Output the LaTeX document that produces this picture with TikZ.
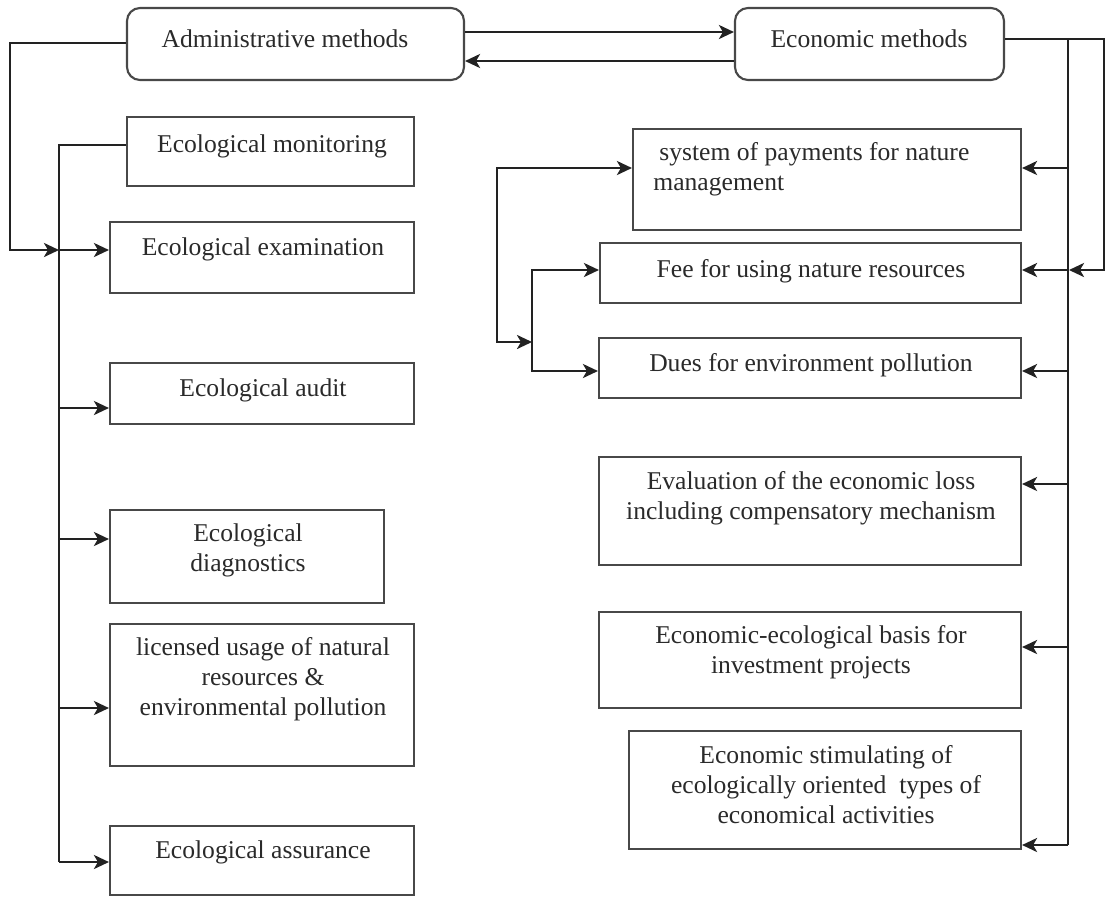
\documentclass[tikz,border=0pt]{standalone}
\usepackage{fontspec}
\setmainfont{Liberation Serif}
\usetikzlibrary{fit,arrows.meta}
\definecolor{boxc}{HTML}{484848}
\definecolor{txtc}{HTML}{2A2A2A}
\definecolor{linec}{HTML}{222222}
\begin{document}
\begin{tikzpicture}[x=0.5pt,y=-0.5pt,
  box/.style={draw=boxc, line width=1.05pt, inner sep=0pt, rectangle},
  rbox/.style={box, rounded corners=6.5pt},
  txt/.style={text=txtc, font=\fontsize{12.8}{15}\selectfont, align=center, inner sep=0pt},
  trunk/.style={draw=linec, line width=1.1pt},
  feed/.style={draw=linec, line width=1.3pt, -{Stealth[length=7.5pt,width=7pt,inset=2pt]}},
  twoway/.style={draw=linec, line width=1.3pt,
    {Stealth[length=7.5pt,width=7pt,inset=2pt]}-{Stealth[length=7.5pt,width=7pt,inset=2pt]}}]
\fill[white] (0,0) rectangle (1109,896);
\useasboundingbox (0,0) rectangle (1109,896);

% ---- top level boxes
\node[rbox, fit={(127,8) (464,80)}] (adm) {};
\node[rbox, fit={(735,8) (1004,80)}] (eco) {};
\node[txt] (admt) at (285,39) {Administrative methods};
\node[txt] (ecot) at (869,39) {Economic methods};

% ---- administrative branch
\node[box, fit={(127,117) (414,186)}] (mon) {};
\node[box, fit={(110,222) (414,293)}] (exa) {};
\node[box, fit={(110,363) (414,424)}] (aud) {};
\node[box, fit={(110,510) (384,603)}] (dia) {};
\node[box, fit={(110,624) (414,766)}] (lic) {};
\node[box, fit={(110,826) (414,895)}] (ass) {};

\node[txt] (mont) at (272,146) {Ecological monitoring};
\node[txt] (exat) at (263,249) {Ecological examination};
\node[txt] (audt) at (263,390) {Ecological audit};
\node[txt] (diat) at (248,550) {Ecological\\diagnostics};
\node[txt] (lict) at (263,679) {licensed usage of natural\\resources \&\\environmental pollution};
\node[txt] (asst) at (263,852) {Ecological assurance};

% ---- economic branch
\node[box, fit={(633,129) (1021,230)}] (pay) {};
\node[box, fit={(600,243) (1021,303)}] (fee) {};
\node[box, fit={(599,338) (1021,398)}] (due) {};
\node[box, fit={(599,457) (1021,565)}] (eva) {};
\node[box, fit={(599,612) (1021,708)}] (inv) {};
\node[box, fit={(629,731) (1021,849)}] (sti) {};

\node[txt, align=left, anchor=west] (payt) at (653,169) {\hspace*{3pt}system of payments for nature\\management};
\node[txt] (feet) at (811,271) {Fee for using nature resources};
\node[txt] (duet) at (811,365) {Dues for environment pollution};
\node[txt] (evat) at (811,498) {Evaluation of the economic loss\\including compensatory mechanism};
\node[txt] (invt) at (811,652) {Economic-ecological basis for\\investment projects};
\node[txt] (stit) at (826,785) {Economic stimulating of\\ecologically oriented\ \ types of\\economical activities};

% ---- links between the two method groups
\draw[feed] (adm.east |- 0,32) -- (eco.west |- 0,32);
\draw[feed] (eco.west |- 0,61) -- (adm.east |- 0,61);

% ---- left trunk
\coordinate (lexa) at (59,250);
\coordinate (laud) at (59,408);
\coordinate (ldia) at (59,539);
\coordinate (llic) at (59,708);
\coordinate (lass) at (59,862);
\draw[feed] (adm.west |- 0,43) -| (10,250) -- (lexa);
\draw[trunk] (mon.west |- 0,145) -| (lass);
\draw[feed] (lexa) -- (exa.west |- lexa);
\draw[feed] (laud) -- (aud.west |- laud);
\draw[feed] (ldia) -- (dia.west |- ldia);
\draw[feed] (llic) -- (lic.west |- llic);
\draw[feed] (lass) -- (ass.west |- lass);

% ---- right trunk
\coordinate (rtop) at (1068,39);
\coordinate (rpay) at (1068,168);
\coordinate (rfee) at (1068,270);
\coordinate (rdue) at (1068,371);
\coordinate (reva) at (1068,484);
\coordinate (rinv) at (1068,647);
\coordinate (rsti) at (1068,845);
\draw[feed] (eco.east |- rtop) -| (1104,270) -- (1069,270);
\draw[trunk] (rtop) -- (rsti);
\draw[feed] (rpay) -- (pay.east |- rpay);
\draw[feed] (rfee) -- (fee.east |- rfee);
\draw[feed] (rdue) -- (due.east |- rdue);
\draw[feed] (reva) -- (eva.east |- reva);
\draw[feed] (rinv) -- (inv.east |- rinv);
\draw[feed] (rsti) -- (sti.east |- rsti);

% ---- payment system split into fee and dues
\coordinate (pjoin) at (532,342);
\draw[twoway] (pay.west |- rpay) -| (497,342) -- (pjoin);
\draw[twoway] (fee.west |- rfee) -| (532,371) -- (due.west |- rdue);
\end{tikzpicture}
\end{document}
